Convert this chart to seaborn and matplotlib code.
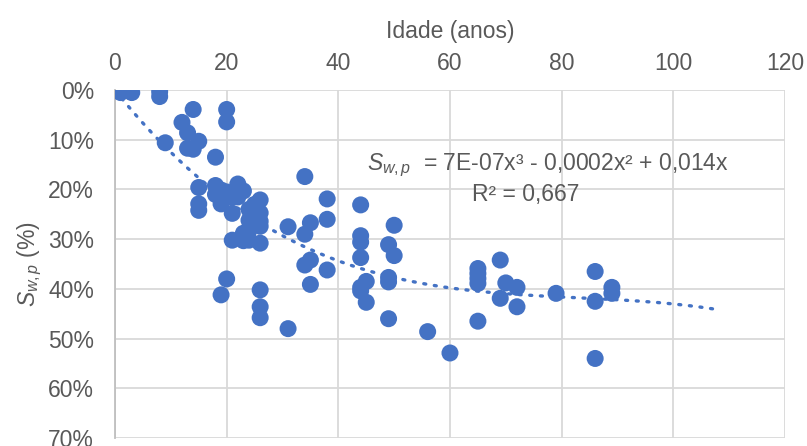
import numpy as np
import pandas as pd
import matplotlib
matplotlib.use("Agg")
import matplotlib.pyplot as plt
from matplotlib.ticker import PercentFormatter
import seaborn as sns

# idade (anos) e S_w,p (%)
idade = [1, 3, 8, 8, 14, 20, 20, 12, 13, 9, 15, 13, 14, 18,
         15, 18, 19, 22, 18, 19, 15, 15, 21, 23, 26, 24, 26, 24,
         26, 26, 24, 23, 21, 23, 24, 26, 22, 21, 20, 25,
         31, 34, 38, 44, 35, 34, 38, 50, 44, 44, 44, 49, 50,
         34, 35, 38, 35, 49, 49, 45, 44, 44, 45, 49, 31, 56, 60,
         65, 65, 65, 65, 65, 69, 70, 72, 69, 72, 79, 86, 86, 86, 89, 89,
         20, 19, 26, 26, 26]
swp = [0.5, 0.5, 0.3, 1.3, 3.9, 3.9, 6.4, 6.5, 8.6, 10.6, 10.3, 11.7, 11.9, 13.5,
       19.6, 19.2, 20.1, 18.9, 21.0, 22.9, 22.9, 24.2, 24.8, 20.3, 22.1, 24.0, 24.7, 26.2,
       26.4, 27.4, 28.2, 28.8, 30.2, 30.3, 30.2, 30.8, 21.5, 21.6, 20.5, 23.0,
       27.5, 17.4, 21.9, 23.1, 26.7, 29.0, 26.0, 27.2, 29.3, 30.6, 33.7, 31.1, 33.3,
       35.2, 34.2, 36.2, 39.1, 37.7, 38.6, 38.5, 39.7, 40.4, 42.7, 46.0, 48.0, 48.6, 52.9,
       35.9, 36.9, 37.9, 38.9, 46.5, 34.2, 38.8, 39.7, 41.9, 43.6, 40.9, 36.5, 42.5, 54.0, 39.7, 40.9,
       38.0, 41.2, 40.2, 43.6, 45.8]

x_ticks = [0, 20, 40, 60, 80, 100, 120]
y_ticks = [0, 10, 20, 30, 40, 50, 60, 70]
eq_line1 = r"$S_{w,p}$  = 7E-07x³ - 0,0002x² + 0,014x"
eq_line2 = "R² = 0,667"

blue = "#4472C4"
grey_text = "#595959"

df = pd.DataFrame({"idade": idade, "swp": swp})

# tendência polinomial de grau 3 com interseção nula (como no Excel)
x = df["idade"].to_numpy(float)
y = df["swp"].to_numpy(float)
A = np.column_stack([x ** 3, x ** 2, x])
coef, *_ = np.linalg.lstsq(A, y, rcond=None)
xt = np.linspace(0, 108, 200)
trend = pd.DataFrame({"idade": xt, "swp": coef[0] * xt ** 3 + coef[1] * xt ** 2 + coef[2] * xt})

sns.set_theme(style="white")
plt.rcParams["font.family"] = ["Liberation Sans", "DejaVu Sans"]
plt.rcParams["mathtext.fontset"] = "custom"
plt.rcParams["mathtext.rm"] = "Liberation Sans"
plt.rcParams["mathtext.it"] = "Liberation Sans:italic"

fig = plt.figure(figsize=(8.07, 4.46), dpi=100)
ax = fig.add_axes([0.1425, 0.018, 0.8302, 0.78])

sns.lineplot(data=trend, x="idade", y="swp", ax=ax, color=blue, linewidth=2.4,
             linestyle=(0, (0.6, 2.6)), dash_capstyle="round", zorder=2)
sns.scatterplot(data=df, x="idade", y="swp", ax=ax, color=blue, s=150,
                edgecolor="none", zorder=3)

ax.set_xlim(0, 120)
ax.set_ylim(70, 0)
ax.set_xticks(x_ticks)
ax.set_yticks(y_ticks)
ax.yaxis.set_major_formatter(PercentFormatter(decimals=0))
ax.xaxis.tick_top()
ax.xaxis.set_label_position("top")
ax.tick_params(length=0, labelsize=16.5, colors=grey_text)
ax.tick_params(axis="x", pad=11)
ax.tick_params(axis="y", pad=15)
ax.grid(True, color="#D9D9D9", linewidth=1.3)
for side in ["right", "bottom", "top"]:
    ax.spines[side].set_visible(False)
ax.spines["left"].set_color("#BFBFBF")
ax.spines["left"].set_linewidth(1.3)

ax.set_xlabel("Idade (anos)", fontsize=16.5, color=grey_text, labelpad=10)
ax.set_ylabel(r"$S_{w,p}$ (%)", fontsize=16.5, color=grey_text, labelpad=3)

ax.text(77.5, 15.2, eq_line1, fontsize=16.5, color=grey_text, ha="center", va="center")
ax.text(73.5, 21.0, eq_line2, fontsize=16.5, color=grey_text, ha="center", va="center")

fig.savefig("out.png", dpi=100)
